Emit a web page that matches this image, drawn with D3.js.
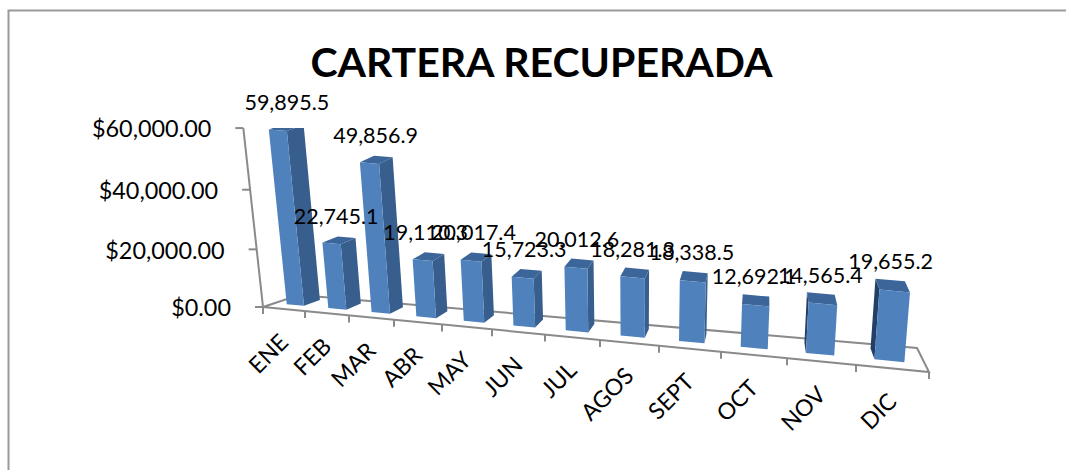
<!DOCTYPE html>
<html><head><meta charset="utf-8">
<style>html,body{margin:0;padding:0;background:#fff}svg{display:block}text{font-family:Lato,"Noto Sans",sans-serif;fill:#000}</style>
<script src="https://cdn.jsdelivr.net/npm/d3@7/dist/d3.min.js"></script>
</head><body><svg id="c" width="1066" height="470"></svg>
<script>
const categories=["ENE","FEB","MAR","ABR","MAY","JUN","JUL","AGOS","SEPT","OCT","NOV","DIC"];
const values=[59895.5,22745.1,49856.9,19110.3,20017.4,15723.3,20012.6,18281.3,18338.5,12692.1,14565.4,19655.2];
const valueLabels=["59,895.5","22,745.1","49,856.9","19,110.3","20,017.4","15,723.3","20,012.6","18,281.3","18,338.5","12,692.1","14,565.4","19,655.2"];
const tickValues=[0,20000,40000,60000];
const tickLabels=["$0.00","$20,000.00","$40,000.00","$60,000.00"];
const titleText="CARTERA RECUPERADA";

const svg=d3.select("#c");
// floor of the 3-D box on screen
const frontL=[263,307],frontR=[929,372],backL=[299,295],backR=[917,348];
const slotEdges=[263,305,349,394,442,492,545,600,659,721,787,856,929];
const vanish=[636,3700];
const slot=d3.scaleLinear().domain(d3.range(13)).range(slotEdges);
const along=d3.scaleLinear().domain([263,929]).range([0,1]);
const val=d3.scaleLinear().domain([0,60000]).range([0,1]);
const localHeight=d3.scaleLinear().domain([287,875]).range([176,221]);
const lerp=(a,b,t)=>[a[0]+(b[0]-a[0])*t,a[1]+(b[1]-a[1])*t];
function floor(u,z){const t=along(slot(u));return lerp(lerp(frontL,frontR,t),lerp(backL,backR,t),z);}
function lift(p,v,px){
  const f=val(v),h=px*f*(0.95+0.05*f);
  const dx=p[0]-vanish[0],dy=p[1]-vanish[1],n=Math.hypot(dx,dy);
  return [p[0]+dx/n*h,p[1]+dy/n*h];
}
const line=d3.line().curve(d3.curveLinearClosed);
const open=d3.line();

// outer border: only left and top edges fall inside the picture
svg.append("path").attr("d",open([[8.5,470],[8.5,10.5],[1066,10.5]])).attr("fill","none").attr("stroke","#999").attr("stroke-width",2);

svg.append("text").attr("x",541.5).attr("y",77).attr("text-anchor","middle").attr("font-size",41).attr("font-weight",700).text(titleText);

const axisCol="#8a8a8a";
const g=svg.append("g").attr("fill","none").attr("stroke",axisCol).attr("stroke-width",2);
g.append("path").attr("d",open([frontL,lift(frontL,60000,180)]));
g.append("path").attr("d",open([frontL,backL,backR,frontR,frontL]));
tickValues.forEach(v=>{const p=lift(frontL,v,180);g.append("path").attr("d",open([[p[0]-8,p[1]],p]));});
d3.range(13).forEach(i=>{const p=floor(i,0);g.append("path").attr("d",open([p,[p[0],p[1]+7]]));});

tickValues.forEach((v,i)=>{const p=lift(frontL,v,180);
  svg.append("text").attr("x",p[0]-32).attr("y",p[1]+1).attr("dy","0.35em").attr("text-anchor","end").attr("font-size",23.4).text(tickLabels[i]);});

const plotTop=lift(frontL,60000,180)[1];
svg.append("clipPath").attr("id","plot").append("rect").attr("x",0).attr("y",plotTop).attr("width",1066).attr("height",470-plotTop);
const bars=svg.append("g").attr("clip-path","url(#plot)");
const uA=0.29,uB=0.71,z0=0.33,z1=0.8;
const front="#4f81bd",sideC="#375e8c",topC="#3c6699",leftC="#223f66";
values.forEach((v,i)=>{
  const fl=floor(i+uA,z0),fr=floor(i+uB,z0),bl=floor(i+uA,z1),br=floor(i+uB,z1);
  const px=localHeight(fl[0]);
  const T=p=>lift(p,v,px);
  if(br[0]>fr[0]+0.5) bars.append("path").attr("d",line([fr,br,T(br),T(fr)])).attr("fill",sideC);
  if(bl[0]<fl[0]-0.5) bars.append("path").attr("d",line([fl,bl,T(bl),T(fl)])).attr("fill",leftC);
  bars.append("path").attr("d",line([T(fl),T(fr),T(br),T(bl)])).attr("fill",topC);
  bars.append("path").attr("d",line([fl,fr,T(fr),T(fl)])).attr("fill",front);
});
values.forEach((v,i)=>{
  const fl=floor(i+uA,z0),fr=floor(i+uB,(z0+z1)/2);
  const px=localHeight(fl[0]);
  const a=lift(fl,v,px),b=lift(fr,v,px);
  const topX=(a[0]+b[0])/2,baseX=(fl[0]+fr[0])/2;
  svg.append("text").attr("x",topX+(baseX-topX)/3-1).attr("y",Math.min(a[1],b[1])-25).attr("dy","0.35em").attr("text-anchor","middle").attr("font-size",21.5).text(valueLabels[i]);
});
categories.forEach((c,i)=>{const p=floor(i+0.5,0);
  svg.append("text").attr("transform",`translate(${p[0]},${p[1]+29}) rotate(-45)`).attr("text-anchor","end").attr("dy","0.35em").attr("font-size",23).text(c);});
</script></body></html>
